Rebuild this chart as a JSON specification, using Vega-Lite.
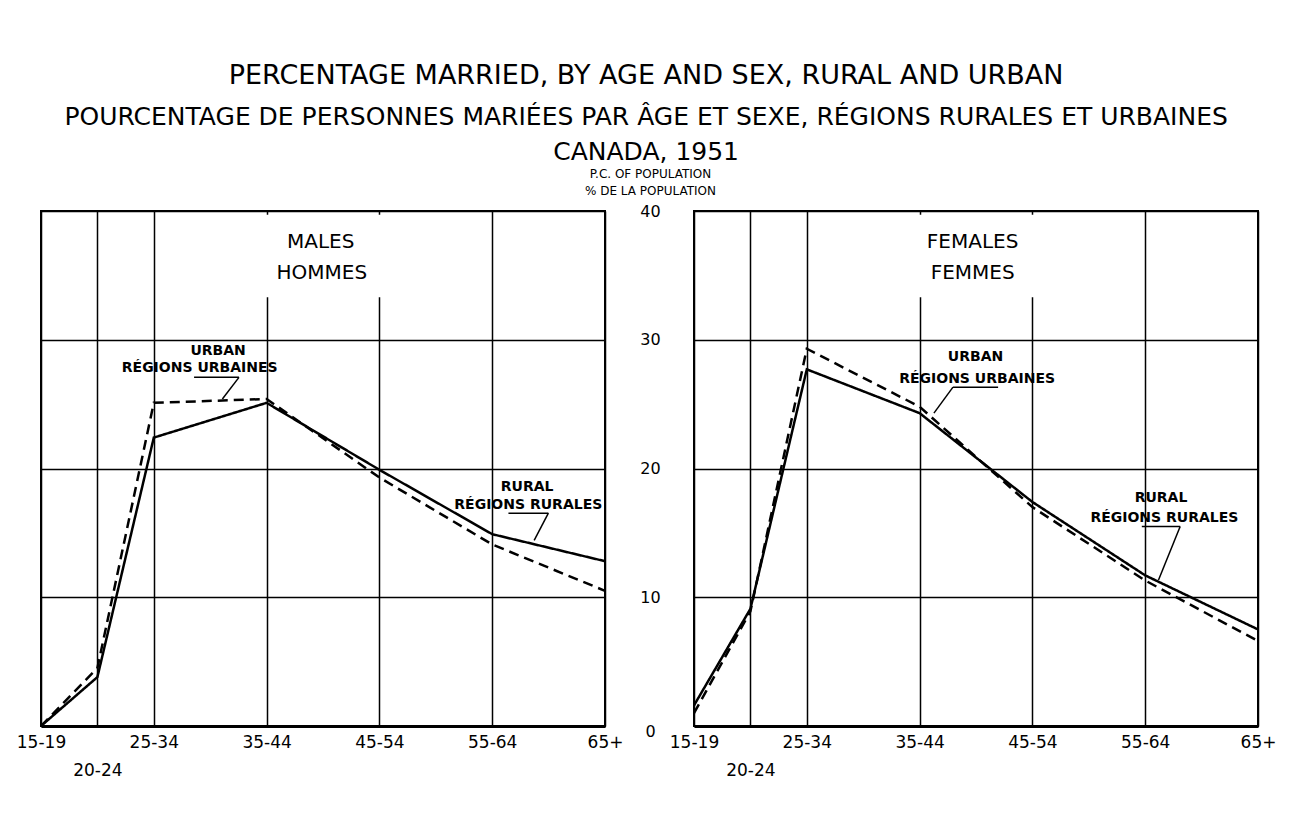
{
  "$schema": "https://vega.github.io/schema/vega-lite/v6.json",
  "background": "white",
  "padding": {"left": 15, "top": 62, "right": 10, "bottom": 10},
  "bounds": "flush",
  "title": {
    "text": "PERCENTAGE MARRIED, BY AGE AND SEX, RURAL AND URBAN",
    "subtitle": ["POURCENTAGE DE PERSONNES MARIÉES PAR ÂGE ET SEXE, RÉGIONS RURALES ET URBAINES", "CANADA, 1951"],
    "font": "DejaVu Sans", "fontSize": 27, "fontWeight": "normal", "color": "black",
    "subtitleFont": "DejaVu Sans", "subtitleFontSize": 25, "subtitleFontWeight": "normal", "subtitleColor": "black",
    "subtitleLineHeight": 35, "subtitlePadding": 15,
    "anchor": "middle", "offset": 0
  },
  "datasets": {
    "married": [
      {"sex": "Males", "area": "Rural", "age": 15, "pct": 0},
      {"sex": "Males", "area": "Rural", "age": 20, "pct": 3.8},
      {"sex": "Males", "area": "Rural", "age": 25, "pct": 22.4},
      {"sex": "Males", "area": "Rural", "age": 35, "pct": 25.1},
      {"sex": "Males", "area": "Rural", "age": 45, "pct": 19.9},
      {"sex": "Males", "area": "Rural", "age": 55, "pct": 14.9},
      {"sex": "Males", "area": "Rural", "age": 65, "pct": 12.8},
      {"sex": "Males", "area": "Urban", "age": 15, "pct": 0},
      {"sex": "Males", "area": "Urban", "age": 20, "pct": 4.5},
      {"sex": "Males", "area": "Urban", "age": 25, "pct": 25.1},
      {"sex": "Males", "area": "Urban", "age": 35, "pct": 25.4},
      {"sex": "Males", "area": "Urban", "age": 45, "pct": 19.3},
      {"sex": "Males", "area": "Urban", "age": 55, "pct": 14.1},
      {"sex": "Males", "area": "Urban", "age": 65, "pct": 10.5},
      {"sex": "Females", "area": "Rural", "age": 15, "pct": 1.6},
      {"sex": "Females", "area": "Rural", "age": 20, "pct": 9.1},
      {"sex": "Females", "area": "Rural", "age": 25, "pct": 27.7},
      {"sex": "Females", "area": "Rural", "age": 35, "pct": 24.3},
      {"sex": "Females", "area": "Rural", "age": 45, "pct": 17.4},
      {"sex": "Females", "area": "Rural", "age": 55, "pct": 11.7},
      {"sex": "Females", "area": "Rural", "age": 65, "pct": 7.5},
      {"sex": "Females", "area": "Urban", "age": 15, "pct": 1.0},
      {"sex": "Females", "area": "Urban", "age": 20, "pct": 8.9},
      {"sex": "Females", "area": "Urban", "age": 25, "pct": 29.3},
      {"sex": "Females", "area": "Urban", "age": 35, "pct": 24.8},
      {"sex": "Females", "area": "Urban", "age": 45, "pct": 17.0},
      {"sex": "Females", "area": "Urban", "age": 55, "pct": 11.3},
      {"sex": "Females", "area": "Urban", "age": 65, "pct": 6.6}
    ],
    "blanks": [
      {"sex": "Males", "age": 34.3, "pct": 33.3, "age2": 45.7, "pct2": 39.7},
      {"sex": "Females", "age": 34.3, "pct": 33.3, "age2": 45.7, "pct2": 39.7}
    ],
    "headings": [
      {"sex": "Males", "age": 39.8, "pct": 37.6, "label": "MALES"},
      {"sex": "Males", "age": 39.9, "pct": 35.2, "label": "HOMMES"},
      {"sex": "Females", "age": 39.7, "pct": 37.6, "label": "FEMALES"},
      {"sex": "Females", "age": 39.7, "pct": 35.2, "label": "FEMMES"}
    ],
    "notes": [
      {"sex": "Males", "age": 30.7, "pct": 29.1, "label": "URBAN"},
      {"sex": "Males", "age": 29.07, "pct": 27.8, "label": "RÉGIONS URBAINES"},
      {"sex": "Males", "age": 58.1, "pct": 18.55, "label": "RURAL"},
      {"sex": "Males", "age": 58.2, "pct": 17.2, "label": "RÉGIONS RURALES"},
      {"sex": "Females", "age": 39.96, "pct": 28.65, "label": "URBAN"},
      {"sex": "Females", "age": 40.1, "pct": 26.94, "label": "RÉGIONS URBAINES"},
      {"sex": "Females", "age": 56.4, "pct": 17.69, "label": "RURAL"},
      {"sex": "Females", "age": 56.7, "pct": 16.18, "label": "RÉGIONS RURALES"}
    ],
    "pointers": [
      {"sex": "Males", "age": 28.57, "pct": 27.08, "age2": 32.55, "pct2": 27.08},
      {"sex": "Males", "age": 32.55, "pct": 27.08, "age2": 31.08, "pct2": 25.4},
      {"sex": "Males", "age": 56.44, "pct": 16.53, "age2": 59.98, "pct2": 16.53},
      {"sex": "Males", "age": 59.98, "pct": 16.53, "age2": 58.72, "pct2": 14.42},
      {"sex": "Females", "age": 37.96, "pct": 26.32, "age2": 41.96, "pct2": 26.32},
      {"sex": "Females", "age": 37.96, "pct": 26.32, "age2": 36.27, "pct2": 24.3},
      {"sex": "Females", "age": 54.7, "pct": 15.49, "age2": 58.1, "pct2": 15.49},
      {"sex": "Females", "age": 58.1, "pct": 15.49, "age2": 56.18, "pct2": 11.34}
    ]
  },
  "spacing": 89,
  "hconcat": [
    {
      "width": 564, "height": 515,
      "layer": [
        {
          "data": {"name": "blanks"},
          "transform": [{"filter": "datum.sex === 'Males'"}],
          "mark": {"type": "rect", "color": "white"},
          "encoding": {
            "x": {"field": "age", "type": "quantitative",
              "scale": {"domain": [15, 65], "nice": false, "zero": false},
              "axis": {"values": [15, 20, 25, 35, 45, 55, 65], "title": null,
                "labelExpr": "datum.value === 15 ? '15-19' : datum.value === 20 ? ['', '20-24'] : datum.value === 65 ? '65+' : datum.value + '-' + (datum.value + 9)"}},
            "y": {"field": "pct", "type": "quantitative",
              "scale": {"domain": [0, 40], "nice": false},
              "axis": {"orient": "right", "values": [0, 10, 20, 30, 40],
                "labelAlign": "center", "labelPadding": 45, "labelLineHeight": 5,
                "labelExpr": "datum.value === 0 ? ['', '0'] : datum.label",
                "title": ["P.C. OF POPULATION", "% DE LA POPULATION"],
                "titleAngle": 0, "titleX": 45, "titleY": -34, "titleBaseline": "alphabetic", "titleAlign": "center",
                "titleFont": "DejaVu Sans", "titleFontSize": 12, "titleFontWeight": "normal", "titleLineHeight": 17, "titleColor": "black"}},
            "x2": {"field": "age2"},
            "y2": {"field": "pct2"}
          }
        },
        {
          "data": {"name": "married"},
          "transform": [{"filter": "datum.sex === 'Males'"}],
          "mark": {"type": "line", "color": "black", "strokeWidth": 2.5},
          "encoding": {
            "x": {"field": "age", "type": "quantitative"},
            "y": {"field": "pct", "type": "quantitative"},
            "strokeDash": {"field": "area", "type": "nominal",
              "scale": {"domain": ["Rural", "Urban"], "range": [[1, 0], [10, 6]]}, "legend": null}
          }
        },
        {
          "data": {"name": "pointers"},
          "transform": [{"filter": "datum.sex === 'Males'"}],
          "mark": {"type": "rule", "color": "black", "strokeWidth": 1.5},
          "encoding": {
            "x": {"field": "age", "type": "quantitative"},
            "y": {"field": "pct", "type": "quantitative"},
            "x2": {"field": "age2"},
            "y2": {"field": "pct2"}
          }
        },
        {
          "data": {"name": "headings"},
          "transform": [{"filter": "datum.sex === 'Males'"}],
          "mark": {"type": "text", "font": "DejaVu Sans", "fontSize": 20, "color": "black", "baseline": "middle"},
          "encoding": {
            "x": {"field": "age", "type": "quantitative"},
            "y": {"field": "pct", "type": "quantitative"},
            "text": {"field": "label"}
          }
        },
        {
          "data": {"name": "notes"},
          "transform": [{"filter": "datum.sex === 'Males'"}],
          "mark": {"type": "text", "font": "DejaVu Sans", "fontSize": 14, "fontWeight": "bold", "color": "black", "baseline": "middle"},
          "encoding": {
            "x": {"field": "age", "type": "quantitative"},
            "y": {"field": "pct", "type": "quantitative"},
            "text": {"field": "label"}
          }
        }
      ]
    },
    {
      "width": 564, "height": 515,
      "layer": [
        {
          "data": {"name": "blanks"},
          "transform": [{"filter": "datum.sex === 'Females'"}],
          "mark": {"type": "rect", "color": "white"},
          "encoding": {
            "x": {"field": "age", "type": "quantitative",
              "scale": {"domain": [15, 65], "nice": false, "zero": false},
              "axis": {"values": [15, 20, 25, 35, 45, 55, 65], "title": null,
                "labelExpr": "datum.value === 15 ? '15-19' : datum.value === 20 ? ['', '20-24'] : datum.value === 65 ? '65+' : datum.value + '-' + (datum.value + 9)"}},
            "y": {"field": "pct", "type": "quantitative",
              "scale": {"domain": [0, 40], "nice": false},
              "axis": {"orient": "left", "values": [0, 10, 20, 30, 40], "labels": false, "title": null}},
            "x2": {"field": "age2"},
            "y2": {"field": "pct2"}
          }
        },
        {
          "data": {"name": "married"},
          "transform": [{"filter": "datum.sex === 'Females'"}],
          "mark": {"type": "line", "color": "black", "strokeWidth": 2.5},
          "encoding": {
            "x": {"field": "age", "type": "quantitative"},
            "y": {"field": "pct", "type": "quantitative"},
            "strokeDash": {"field": "area", "type": "nominal",
              "scale": {"domain": ["Rural", "Urban"], "range": [[1, 0], [10, 6]]}, "legend": null}
          }
        },
        {
          "data": {"name": "pointers"},
          "transform": [{"filter": "datum.sex === 'Females'"}],
          "mark": {"type": "rule", "color": "black", "strokeWidth": 1.5},
          "encoding": {
            "x": {"field": "age", "type": "quantitative"},
            "y": {"field": "pct", "type": "quantitative"},
            "x2": {"field": "age2"},
            "y2": {"field": "pct2"}
          }
        },
        {
          "data": {"name": "headings"},
          "transform": [{"filter": "datum.sex === 'Females'"}],
          "mark": {"type": "text", "font": "DejaVu Sans", "fontSize": 20, "color": "black", "baseline": "middle"},
          "encoding": {
            "x": {"field": "age", "type": "quantitative"},
            "y": {"field": "pct", "type": "quantitative"},
            "text": {"field": "label"}
          }
        },
        {
          "data": {"name": "notes"},
          "transform": [{"filter": "datum.sex === 'Females'"}],
          "mark": {"type": "text", "font": "DejaVu Sans", "fontSize": 14, "fontWeight": "bold", "color": "black", "baseline": "middle"},
          "encoding": {
            "x": {"field": "age", "type": "quantitative"},
            "y": {"field": "pct", "type": "quantitative"},
            "text": {"field": "label"}
          }
        }
      ]
    }
  ],
  "config": {
    "view": {"stroke": "black", "strokeWidth": 2},
    "axis": {
      "grid": true, "gridColor": "black", "gridWidth": 1.5, "gridOpacity": 1,
      "ticks": false, "domain": false,
      "labelFont": "DejaVu Sans", "labelFontSize": 16, "labelColor": "black",
      "labelOverlap": false, "labelFlush": false
    },
    "axisX": {"domain": true, "domainColor": "black", "domainWidth": 3, "labelPadding": 8, "labelLineHeight": 28, "labelFontSize": 17}
  }
}
